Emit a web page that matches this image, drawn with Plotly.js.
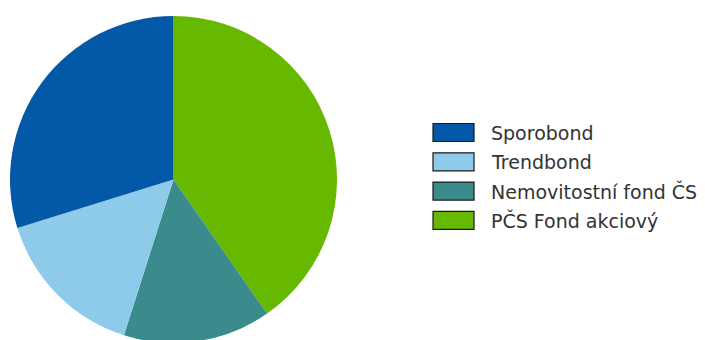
<!DOCTYPE html>
<html>
<head>
<meta charset="utf-8">
<script src="https://cdn.plot.ly/plotly-3.0.1.min.js"></script>
<style>html,body{margin:0;padding:0;overflow:hidden;background:#fff;}</style>
</head>
<body>
<div id="chart" style="width:705px;height:350px;"></div>
<script>
const labels = ["Sporobond", "Trendbond", "Nemovitostní fond ČS", "PČS Fond akciový"];
const values = [29.8, 15.3, 14.6, 40.3];
const colors = ["#0458A8", "#8ECBEB", "#3A8C8C", "#66B800"];

const W = 705, H = 350;
const px = x => x / W;
const py = y => 1 - y / H;

const shapes = [];
const annotations = [];
labels.forEach((lab, i) => {
  const cy = 132.5 + i * 29.3;
  shapes.push({
    type: "rect", xref: "paper", yref: "paper",
    x0: px(433), x1: px(474), y0: py(cy - 9), y1: py(cy + 9),
    fillcolor: colors[i], line: {color: "#1a1a1a", width: 1.2}
  });
  annotations.push({
    xref: "paper", yref: "paper", x: px(489), y: py(cy),
    xanchor: "left", yanchor: "middle", showarrow: false,
    text: lab, font: {family: "DejaVu Sans", size: 19, color: "#333"}
  });
});

// Slices run counterclockwise from 12 o'clock in legend order,
// i.e. clockwise from 12 o'clock in reversed order.
const rev = a => a.slice().reverse();

Plotly.newPlot("chart", [{
  type: "pie",
  labels: rev(labels),
  values: rev(values),
  sort: false,
  direction: "clockwise",
  rotation: 0,
  textinfo: "none",
  hoverinfo: "label+percent",
  marker: {colors: rev(colors), line: {width: 0}},
  domain: {x: [px(10), px(337)], y: [py(343), py(16)]}
}], {
  width: W, height: H,
  margin: {l: 0, r: 0, t: 0, b: 0},
  showlegend: false,
  paper_bgcolor: "#fff",
  shapes: shapes,
  annotations: annotations
}, {displayModeBar: false, staticPlot: true});
</script>
</body>
</html>
